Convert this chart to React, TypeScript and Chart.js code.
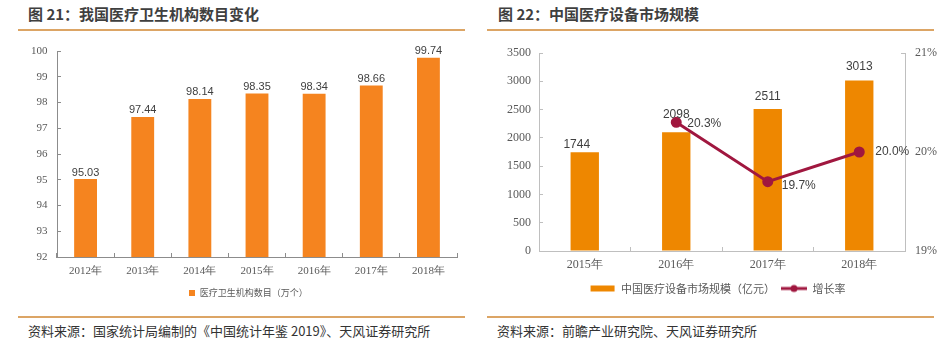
import React, { useEffect, useRef } from "react";
import { Chart, registerables } from "chart.js";

Chart.register(...registerables);

// ---- data ----
const institutionYears = ["2012年", "2013年", "2014年", "2015年", "2016年", "2017年", "2018年"];
const institutionCounts = [95.03, 97.44, 98.14, 98.35, 98.34, 98.66, 99.74];
const institutionLabels = ["95.03", "97.44", "98.14", "98.35", "98.34", "98.66", "99.74"];
const institutionSeriesName = "医疗卫生机构数目（万个）";

const marketYears = ["2015年", "2016年", "2017年", "2018年"];
const marketSize = [1744, 2098, 2511, 3013];
const marketLabels = ["1744", "2098", "2511", "3013"];
const growthRate = [null, 20.3, 19.7, 20.0];
const growthLabels = ["", "20.3%", "19.7%", "20.0%"];
const marketSeriesName = "中国医疗设备市场规模（亿元）";
const growthSeriesName = "增长率";

const ORANGE_L = "#F5841F";
const ORANGE_R = "#EE8700";
const LINE_RED = "#A0173F";
const AXIS_GRAY = "#8c8c8c";
const TEXT_GRAY = "#595959";
const RULE = "#DCA565";

type LabelCfg = {
  datasetIndex: number;
  texts: string[];
  font: string;
  color: string;
  align: CanvasTextAlign;
  baseline: CanvasTextBaseline;
  dx: number[];
  dy: number[];
};

function makeLabelPlugin(cfgs: LabelCfg[]) {
  return {
    id: "valueLabels",
    afterDatasetsDraw(chart: any) {
      const ctx = chart.ctx as CanvasRenderingContext2D;
      cfgs.forEach((cfg) => {
        const meta = chart.getDatasetMeta(cfg.datasetIndex);
        meta.data.forEach((el: any, j: number) => {
          const t = cfg.texts[j];
          if (!t) return;
          ctx.save();
          ctx.font = cfg.font;
          ctx.fillStyle = cfg.color;
          ctx.textAlign = cfg.align;
          ctx.textBaseline = cfg.baseline;
          ctx.fillText(t, el.x + (cfg.dx[j] ?? 0), el.y + (cfg.dy[j] ?? 0));
          ctx.restore();
        });
      });
    },
  };
}

function legendImage(kind: "bar" | "line" | "square", color: string) {
  const c = document.createElement("canvas");
  if (kind === "square") {
    c.width = 6;
    c.height = 6;
    const g = c.getContext("2d")!;
    g.fillStyle = color;
    g.fillRect(0, 0, 6, 6);
    return c;
  }
  c.width = 26;
  c.height = 10;
  const g = c.getContext("2d")!;
  if (kind === "bar") {
    g.fillStyle = color;
    g.fillRect(1, 2, 24, 6);
  } else {
    g.strokeStyle = color;
    g.lineWidth = 3;
    g.beginPath();
    g.moveTo(0, 5);
    g.lineTo(26, 5);
    g.stroke();
    g.fillStyle = color;
    g.beginPath();
    g.arc(13, 5, 3.5, 0, Math.PI * 2);
    g.fill();
  }
  return c;
}

function LeftChart() {
  const ref = useRef<HTMLCanvasElement | null>(null);
  useEffect(() => {
    if (!ref.current) return;
    const sq = legendImage("square", ORANGE_L);
    const chart = new Chart(ref.current, {
      type: "bar",
      data: {
        labels: institutionYears,
        datasets: [
          {
            label: institutionSeriesName,
            data: institutionCounts,
            backgroundColor: ORANGE_L,
            barPercentage: 0.4,
            categoryPercentage: 1,
          },
        ],
      },
      options: {
        animation: false,
        responsive: false,
        devicePixelRatio: 1,
        layout: { padding: { left: 40, right: 13, top: 51, bottom: 0 } },
        plugins: {
          tooltip: { enabled: false },
          legend: {
            position: "bottom",
            labels: {
              usePointStyle: true,
              pointStyleWidth: 6,
              boxHeight: 6,
              padding: 6,
              color: TEXT_GRAY,
              font: { family: "'Noto Sans CJK SC'", size: 9 },
              generateLabels: (ch: any) => {
                const items = (Chart.defaults.plugins.legend.labels as any).generateLabels(ch);
                items.forEach((it: any) => (it.pointStyle = sq));
                return items;
              },
            },
          },
        },
        scales: {
          x: {
            grid: {
              display: true,
              drawOnChartArea: false,
              drawTicks: true,
              tickLength: -4,
              color: AXIS_GRAY,
            },
            border: { color: AXIS_GRAY },
            ticks: {
              color: TEXT_GRAY,
              padding: 12,
              font: { family: "'Liberation Serif'", size: 11 },
            },
            afterFit: (s: any) => {
              s.height = 25;
            },
          },
          y: {
            min: 92,
            max: 100,
            ticks: {
              stepSize: 1,
              color: TEXT_GRAY,
              mirror: true,
              crossAlign: "far",
              padding: -26,
              font: { family: "'Liberation Serif'", size: 11 },
            },
            grid: {
              display: true,
              drawOnChartArea: false,
              drawTicks: true,
              tickLength: -4,
              color: AXIS_GRAY,
            },
            border: { color: AXIS_GRAY },
            afterFit: (s: any) => {
              s.width = 17;
            },
          },
        },
      },
      plugins: [
        makeLabelPlugin([
          {
            datasetIndex: 0,
            texts: institutionLabels,
            font: "11px 'Liberation Sans'",
            color: "#404040",
            align: "center",
            baseline: "bottom",
            dx: [0, 0, 0, 0, 0, 0, 0],
            dy: [-1, -1, -1, -1, -1, -1, -1],
          },
        ]),
      ],
    } as any);
    return () => chart.destroy();
  }, []);
  return (
    <canvas
      ref={ref}
      width={470}
      height={307}
      style={{ position: "absolute", left: 0, top: 0, width: 470, height: 307 }}
    />
  );
}

function RightChart() {
  const ref = useRef<HTMLCanvasElement | null>(null);
  useEffect(() => {
    if (!ref.current) return;
    const barImg = legendImage("bar", ORANGE_R);
    const lineImg = legendImage("line", LINE_RED);
    const chart = new Chart(ref.current, {
      type: "bar",
      data: {
        labels: marketYears,
        datasets: [
          {
            type: "bar",
            label: marketSeriesName,
            data: marketSize,
            backgroundColor: ORANGE_R,
            barPercentage: 0.31,
            categoryPercentage: 1,
            yAxisID: "y",
            order: 2,
          },
          {
            type: "line",
            label: growthSeriesName,
            data: growthRate,
            borderColor: LINE_RED,
            backgroundColor: LINE_RED,
            borderWidth: 3,
            pointRadius: 4,
            pointBackgroundColor: LINE_RED,
            pointBorderColor: LINE_RED,
            yAxisID: "y1",
            order: 1,
            spanGaps: true,
          },
        ],
      },
      options: {
        animation: false,
        responsive: false,
        devicePixelRatio: 1,
        layout: { padding: { left: 0, right: 0, top: 53, bottom: 0 } },
        plugins: {
          tooltip: { enabled: false },
          legend: {
            position: "bottom",
            labels: {
              usePointStyle: true,
              pointStyleWidth: 26,
              boxHeight: 10,
              padding: 6,
              color: TEXT_GRAY,
              font: { family: "'Noto Sans CJK SC'", size: 11 },
              generateLabels: (ch: any) => {
                const items = (Chart.defaults.plugins.legend.labels as any).generateLabels(ch);
                items.sort((a: any, b: any) => a.datasetIndex - b.datasetIndex);
                items.forEach((it: any) => (it.pointStyle = it.datasetIndex === 0 ? barImg : lineImg));
                return items;
              },
            },
          },
        },
        scales: {
          x: {
            grid: {
              display: true,
              drawOnChartArea: false,
              drawTicks: true,
              tickLength: -4,
              color: "#bfbfbf",
            },
            border: { color: "#bfbfbf" },
            ticks: {
              color: TEXT_GRAY,
              padding: 11,
              font: { family: "'Liberation Serif'", size: 12 },
            },
            afterFit: (s: any) => {
              s.height = 26;
            },
          },
          y: {
            position: "left",
            min: 0,
            max: 3500,
            ticks: {
              stepSize: 500,
              color: TEXT_GRAY,
              padding: 12,
              font: { family: "'Liberation Serif'", size: 12 },
              callback: (v: any) => String(v),
            },
            grid: {
              display: true,
              drawOnChartArea: false,
              drawTicks: true,
              tickLength: -4,
              color: "#bfbfbf",
            },
            border: { color: "#bfbfbf" },
            afterFit: (s: any) => {
              s.width = 64;
            },
          },
          y1: {
            position: "right",
            min: 19,
            max: 21,
            ticks: {
              stepSize: 1,
              color: TEXT_GRAY,
              padding: 14,
              font: { family: "'Liberation Serif'", size: 12 },
              callback: (v: any) => `${v}%`,
            },
            grid: {
              display: true,
              drawOnChartArea: false,
              drawTicks: true,
              tickLength: -4,
              color: "#bfbfbf",
            },
            border: { color: "#bfbfbf" },
            afterFit: (s: any) => {
              s.width = 55;
            },
          },
        },
      },
      plugins: [
        makeLabelPlugin([
          {
            datasetIndex: 0,
            texts: marketLabels,
            font: "12px 'Liberation Sans'",
            color: "#404040",
            align: "center",
            baseline: "bottom",
            dx: [-8, 0, 0, 0],
            dy: [-2, -12, -6, -8],
          },
          {
            datasetIndex: 1,
            texts: growthLabels,
            font: "12px 'Liberation Sans'",
            color: "#404040",
            align: "left",
            baseline: "middle",
            dx: [0, 11, 14, 16],
            dy: [0, 1, 4, 0],
          },
        ]),
      ],
    } as any);
    return () => chart.destroy();
  }, []);
  return (
    <canvas
      ref={ref}
      width={485}
      height={304}
      style={{ position: "absolute", left: 475, top: 0, width: 485, height: 304 }}
    />
  );
}

const titleStyle: React.CSSProperties = {
  position: "absolute",
  top: 5,
  fontFamily: "'Noto Sans CJK SC', 'Noto Sans', sans-serif",
  fontWeight: 700,
  fontSize: 15,
  lineHeight: "18px",
  color: "#3f3f3f",
  whiteSpace: "nowrap",
};

const footStyle: React.CSSProperties = {
  position: "absolute",
  top: 322,
  fontFamily: "'Noto Sans CJK SC', 'Noto Sans', sans-serif",
  fontSize: 13,
  lineHeight: "18px",
  color: "#333333",
  whiteSpace: "nowrap",
};

const ruleStyle = (left: number, top: number): React.CSSProperties => ({
  position: "absolute",
  left,
  top,
  width: 447,
  height: 1.5,
  background: RULE,
});

export default function App() {
  return (
    <div
      style={{
        position: "fixed",
        left: 0,
        top: 0,
        width: 947,
        height: 350,
        overflow: "hidden",
        background: "#ffffff",
      }}
    >
      <div style={{ ...titleStyle, left: 28 }}>图 21：我国医疗卫生机构数目变化</div>
      <div style={{ ...titleStyle, left: 498 }}>图 22：中国医疗设备市场规模</div>
      <div style={ruleStyle(18, 29)} />
      <div style={ruleStyle(487, 29)} />
      <LeftChart />
      <RightChart />
      <div style={ruleStyle(18, 316)} />
      <div style={ruleStyle(487, 316)} />
      <div style={{ ...footStyle, left: 28 }}>资料来源：国家统计局编制的《中国统计年鉴 2019》、天风证券研究所</div>
      <div style={{ ...footStyle, left: 497 }}>资料来源：前瞻产业研究院、天风证券研究所</div>
    </div>
  );
}
